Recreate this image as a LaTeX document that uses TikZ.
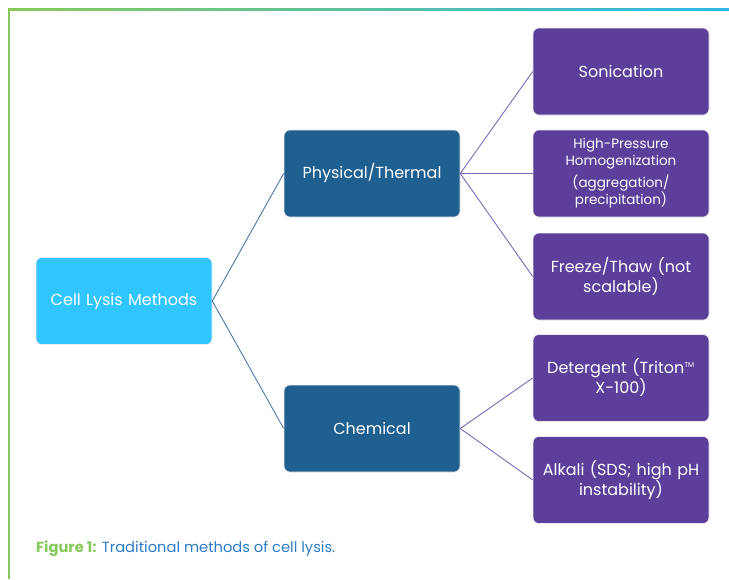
\documentclass[tikz,border=0pt]{standalone}
\usepackage{fontspec}
\setmainfont{Poppins}
\usepackage{xcolor}
\definecolor{rootblue}{HTML}{30C5FF}
\definecolor{steel}{HTML}{1F6091}
\definecolor{violet}{HTML}{5B3F9A}
\definecolor{linkblue}{HTML}{4A7AA8}
\definecolor{linkviolet}{HTML}{7E66B8}
\definecolor{figgreen}{HTML}{86C95A}
\definecolor{figblue}{HTML}{2B7CC6}
\definecolor{framecyan}{HTML}{2DB8E8}
\usepackage{tikz}
\usetikzlibrary{positioning}

\begin{document}
\begin{tikzpicture}[x=1pt, y=-1pt,
  box/.style={draw=white!85!gray, line width=0.6pt, rounded corners=6pt, text=white,
              minimum width=176pt, minimum height=87pt, text width=166pt, align=center,
              inner sep=2pt, font=\fontsize{16}{20}\selectfont},
  root/.style={box, fill=rootblue},
  mid/.style={box, fill=steel},
  leaf/.style={box, fill=violet},
  blink/.style={draw=linkblue, line width=0.9pt},
  vlink/.style={draw=linkviolet, line width=0.9pt}]
  \useasboundingbox (0,0) rectangle (729,579);
  % frame
  \shade[left color=figgreen, right color=framecyan] (8,8) rectangle (729,10);
  \fill[figgreen] (8,8) rectangle (10,579);
  % boxes
  \node[root] (cell) at (124,301)   {Cell Lysis Methods};
  \node[mid]  (phys) at (372,173.5) {Physical/Thermal};
  \node[mid]  (chem) at (372,428.5) {Chemical};
  \node[leaf] (soni) at (621,71.5)  {Sonication};
  \node[leaf, font=\fontsize{13.5}{17}\selectfont] (hph) at (621,173.5)
    {High-Pressure\\Homogenization\\[5pt](aggregation/\\precipitation)};
  \node[leaf] (frz) at (621,276.5)  {Freeze/Thaw (not\\scalable)};
  \node[leaf] (det) at (621,378)    {Detergent (Triton\textsuperscript{\scriptsize TM}\\X-100)};
  \node[leaf] (alk) at (621,480)    {Alkali (SDS; high pH\\instability)};
  % links
  \draw[blink] (cell.east) -- (phys.west);
  \draw[blink] (cell.east) -- (chem.west);
  \foreach \t in {soni,hph,frz} \draw[vlink] (phys.east) -- (\t.west);
  \foreach \t in {det,alk} \draw[vlink] (chem.east) -- (\t.west);
  % caption
  \node[anchor=west, inner sep=0pt, font=\fontsize{14.7}{18}\selectfont] (cap) at (36,549)
    {\textcolor{figgreen}{\bfseries Figure 1:} \textcolor{figblue}{Traditional methods of cell lysis.}};
\end{tikzpicture}
\end{document}
